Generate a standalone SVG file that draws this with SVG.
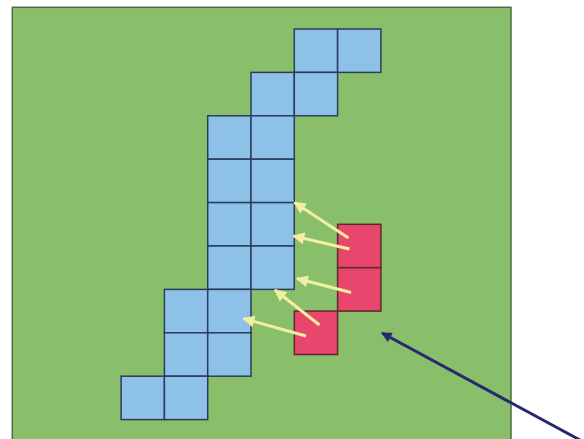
<svg xmlns="http://www.w3.org/2000/svg" width="584" height="439" viewBox="0 0 584 439">
<defs>
<style>
.bg{fill:#89bf6b;stroke:#4d6b43;stroke-width:1.5}
.b{fill:#8ec1e7;stroke:#2c3d5c;stroke-width:1.5}
.r{fill:#e8466c;stroke:#5a2a30;stroke-width:1.5}
.ya{stroke:#f4efa0;stroke-width:3;fill:none;marker-end:url(#yh)}
.na{stroke:#27296e;stroke-width:3;fill:none;marker-end:url(#nh)}
</style>
<marker id="yh" viewBox="0 0 10 10" refX="9" refY="5" markerWidth="4.5" markerHeight="4" orient="auto" markerUnits="strokeWidth">
<path d="M0,0 L10,5 L0,10 Z" fill="#f4efa0"/>
</marker>
<marker id="nh" viewBox="0 0 10 10" refX="9" refY="5" markerWidth="4.5" markerHeight="3.5" orient="auto" markerUnits="strokeWidth">
<path d="M0,0 L10,5 L0,10 Z" fill="#27296e"/>
</marker>
</defs>
<rect width="584" height="439" fill="#ffffff"/>
<rect id="field" class="bg" x="12.3" y="7.3" width="498.7" height="440"/>
<g id="blue-cells">
<rect class="b" x="294.3" y="29" width="43.3" height="43.4"/>
<rect class="b" x="337.6" y="29" width="43.3" height="43.4"/>
<rect class="b" x="251" y="72.4" width="43.3" height="43.4"/>
<rect class="b" x="294.3" y="72.4" width="43.3" height="43.4"/>
<rect class="b" x="207.7" y="115.8" width="43.3" height="43.4"/>
<rect class="b" x="251" y="115.8" width="43.3" height="43.4"/>
<rect class="b" x="207.7" y="159.2" width="43.3" height="43.4"/>
<rect class="b" x="251" y="159.2" width="43.3" height="43.4"/>
<rect class="b" x="207.7" y="202.6" width="43.3" height="43.4"/>
<rect class="b" x="251" y="202.6" width="43.3" height="43.4"/>
<rect class="b" x="207.7" y="246" width="43.3" height="43.4"/>
<rect class="b" x="251" y="246" width="43.3" height="43.4"/>
<rect class="b" x="164.4" y="289.4" width="43.3" height="43.4"/>
<rect class="b" x="207.7" y="289.4" width="43.3" height="43.4"/>
<rect class="b" x="164.4" y="332.8" width="43.3" height="43.4"/>
<rect class="b" x="207.7" y="332.8" width="43.3" height="43.4"/>
<rect class="b" x="121.1" y="376.2" width="43.3" height="43.4"/>
<rect class="b" x="164.4" y="376.2" width="43.3" height="43.4"/>
</g>
<g id="red-cells">
<rect class="r" x="337.6" y="224.3" width="43.3" height="43.4"/>
<rect class="r" x="337.6" y="267.7" width="43.3" height="43.4"/>
<rect class="r" x="294.3" y="311.1" width="43.3" height="43.4"/>
</g>
<g id="connectors">
<line class="ya" x1="348.5" y1="238" x2="294.5" y2="202.5"/>
<line class="ya" x1="349.5" y1="249" x2="293.5" y2="236"/>
<line class="ya" x1="351" y1="292.5" x2="297" y2="278.5"/>
<line class="ya" x1="319.5" y1="325" x2="275" y2="290"/>
<line class="ya" x1="306" y1="336" x2="243.5" y2="318.5"/>
<line class="na" x1="580" y1="440" x2="382" y2="333"/>
</g>
</svg>
